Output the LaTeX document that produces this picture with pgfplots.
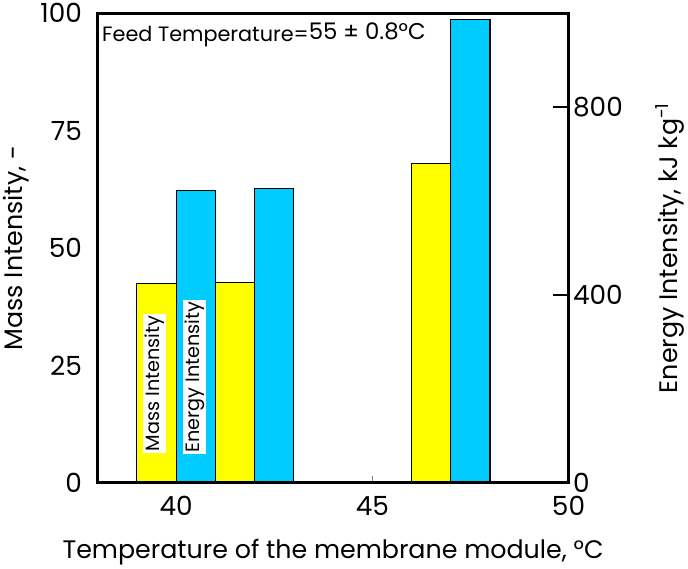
\documentclass[border=0pt]{standalone}
\usepackage{fontspec}
\setmainfont{Poppins}
\usepackage{pgfplots}
\pgfplotsset{compat=1.18}
\definecolor{myyellow}{RGB}{255,255,0}
\definecolor{myblue}{RGB}{0,204,255}

\begin{document}
\begin{tikzpicture}
\pgfplotsset{
  every axis/.append style={
    scale only axis, width=463bp, height=462bp,
    xmin=38, xmax=50,
    /pgf/number format/assume math mode=true,
    tick label style={font=\fontsize{26}{26}\selectfont},
    label style={font=\fontsize{25}{25}\selectfont},
  }
}
% left axis: mass intensity (yellow)
\begin{axis}[
  ymin=0, ymax=100,
  ytick={0,25,50,75,100},
  xtick={40,45,50},
  ytick pos=left, xtick pos=bottom,
  y tick style={draw=none},
  x tick style={line width=1.5pt},
  major tick length=7bp,
  axis line style={line width=3pt},
  yticklabel style={xshift=-12bp},
  xticklabel style={yshift=-10bp},
  xlabel={Temperature of the membrane module, °C},
  ylabel={Mass Intensity, -},
  xlabel style={at={(rel axis cs:0.5,0)}, anchor=center, yshift=-68bp},
  ylabel style={at={(rel axis cs:0,0.5)}, anchor=center, rotate=0, yshift=80bp},
]
\addplot[ybar, bar width=1, bar shift=0pt, fill=myyellow, draw=black, line width=1.2pt]
  coordinates {(39.5,42.5) (41.5,42.7) (46.5,68.0)};
\node[anchor=north west, font=\fontsize{20.5}{20.5}\selectfont, inner sep=2pt]
  at (rel axis cs:0.005,0.985) {Feed Temperature=\raisebox{2pt}{\fontsize{22.5}{22.5}\selectfont 55 ± 0.8°C}};
\node[rotate=90, fill=white, inner sep=1.5pt, font=\fontsize{19}{19}\selectfont]
  at (axis cs:39.45,21.2) {Mass Intensity};
\end{axis}
% right axis: energy intensity (blue)
\begin{axis}[
  ymin=0, ymax=1000,
  ytick={0,400,800},
  axis x line=none,
  axis y line*=right,
  axis line style={line width=3pt, -},
  y tick style={line width=1.5pt, black},
  major tick length=15bp,
  yticklabel style={xshift=1bp},
  ylabel={Energy Intensity, kJ kg\textsuperscript{-1}},
  ylabel style={at={(rel axis cs:1,0.5)}, anchor=center, yshift=-100bp},
]
\addplot[ybar, bar width=1, bar shift=0pt, fill=myblue, draw=black, line width=1.2pt]
  coordinates {(40.5,623) (42.5,627) (47.5,987)};
\node[rotate=90, fill=white, inner sep=1.5pt, font=\fontsize{19}{19}\selectfont]
  at (axis cs:40.47,225) {Energy Intensity};
\end{axis}
% redraw the frame above the bars
\begin{axis}[
  ymin=0, ymax=100, xtick=\empty, ytick=\empty,
  axis line style={line width=3pt},
]
\end{axis}
\end{tikzpicture}
\end{document}
